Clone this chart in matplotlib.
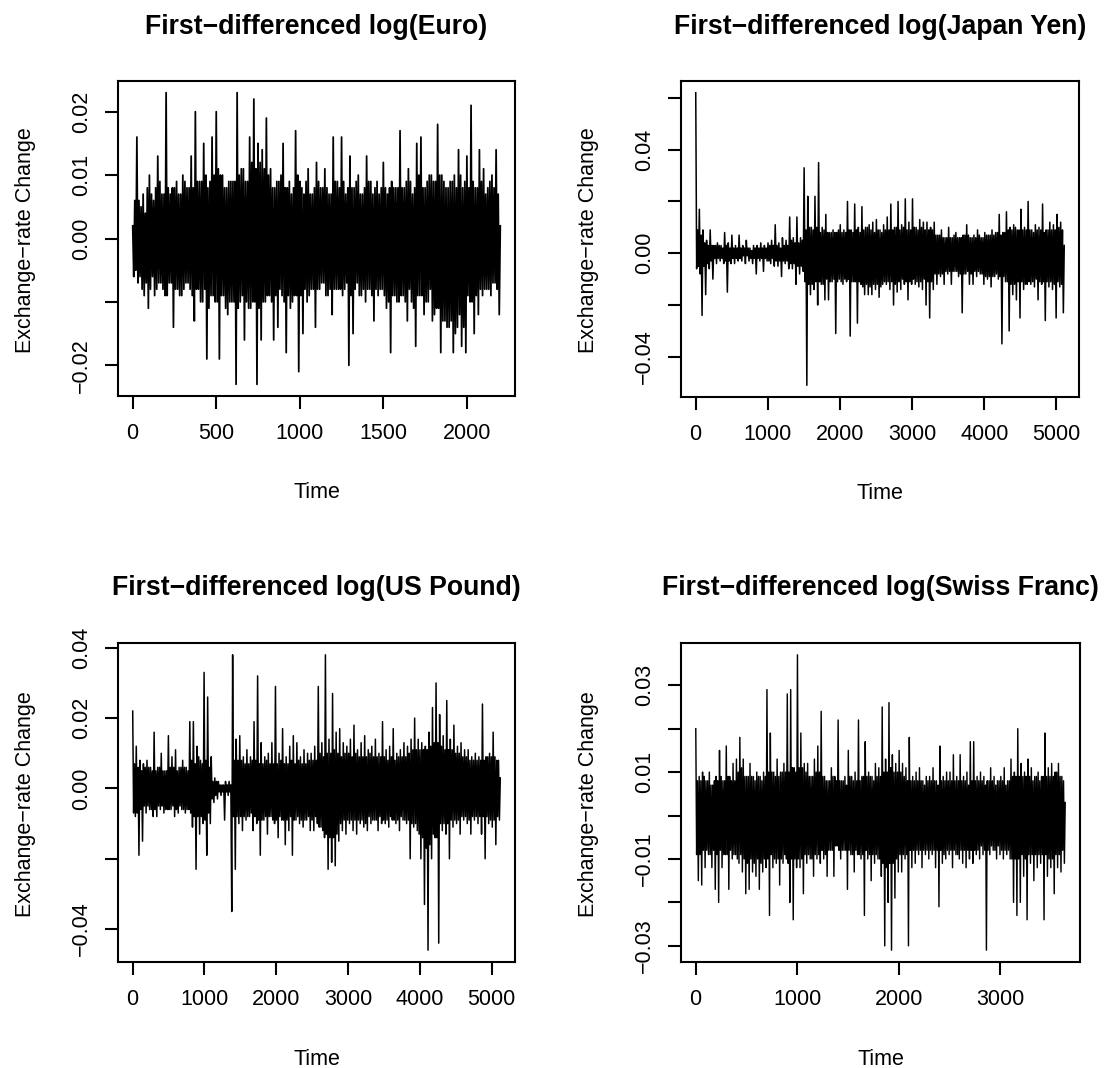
import numpy as np
import matplotlib
matplotlib.use("Agg")
import matplotlib.pyplot as plt

plt.rcParams['font.family'] = ['Liberation Sans', 'DejaVu Sans']

# ---------------- data (in units of 0.001) -------------
euro_n = 2200
euro_milli = [
    2, -6, 6, -5, 16, -7, 6, -6, 5, -8, 7, -9, 4, -7, 8, -11,
    10, -8, 7, -6, 6, -9, 8, -8, 13, -7, 9, -7, 7, -8, 7, -9,
    23, -9, 8, -7, 7, -7, 8, -14, 8, -8, 9, -8, 7, -9, 7, -9,
    10, -8, 9, -7, 8, -7, 8, -8, 13, -9, 8, -13, 20, -8, 9, -8,
    9, -10, 9, -10, 15, -8, 10, -19, 8, -11, 9, -9, 16, -9, 10, -10,
    20, -10, 11, -19, 10, -9, 10, -9, 8, -11, 8, -12, 9, -10, 9, -10,
    9, -10, 9, -23, 23, -11, 10, -10, 11, -9, 11, -16, 9, -10, 9, -11,
    16, -11, 12, -10, 22, -10, 11, -23, 15, -11, 12, -16, 14, -10, 11, -10,
    19, -9, 10, -9, 11, -10, 8, -16, 8, -9, 9, -14, 9, -8, 10, -9,
    15, -10, 8, -18, 8, -9, 9, -11, 7, -10, 8, -9, 17, -9, 10, -21,
    9, -9, 8, -15, 7, -8, 9, -10, 11, -9, 7, -8, 7, -8, 8, -14,
    12, -8, 9, -8, 8, -7, 8, -7, 11, -9, 8, -9, 7, -8, 7, -12,
    16, -8, 9, -8, 9, -8, 8, -8, 16, -9, 9, -8, 7, -7, 8, -20,
    13, -9, 8, -15, 8, -8, 9, -7, 10, -9, 7, -9, 7, -8, 8, -10,
    13, -8, 9, -8, 9, -9, 7, -13, 8, -8, 9, -9, 7, -8, 8, -8,
    12, -9, 8, -11, 7, -10, 8, -18, 9, -9, 8, -9, 8, -10, 8, -10,
    17, -9, 8, -9, 8, -10, 9, -13, 11, -8, 9, -10, 7, -11, 8, -17,
    15, -9, 10, -9, 16, -9, 8, -12, 8, -10, 9, -10, 10, -8, 10, -13,
    9, -12, 9, -11, 18, -11, 10, -18, 10, -13, 9, -13, 8, -14, 8, -14,
    9, -13, 9, -18, 10, -15, 8, -14, 14, -12, 10, -17, 8, -14, 9, -18,
    13, -9, 8, -10, 21, -10, 9, -15, 8, -9, 8, -12, 14, -8, 9, -9,
    11, -8, 7, -8, 8, -8, 9, -9, 10, -7, 8, -7, 14, -8, 7, -12,
    2,
]

yen_n = 5110
yen_milli = [
    62, -6, 9, -5, 17, -8, 7, -24,
    9, -5, 4, -16, 5, -4, 3, -6,
    9, -3, 3, -10, 3, -2, 3, -4,
    4, -2, 3, -3, 3, -2, 2, -4,
    8, -3, 3, -15, 4, -3, 2, -4,
    7, -2, 2, -4, 3, -2, 2, -3,
    7, -2, 2, -3, 3, -1, 2, -4,
    5, -1, 2, -3, 2, -2, 1, -4,
    3, -2, 2, -8, 3, -2, 2, -3,
    4, -2, 2, -7, 3, -2, 2, -3,
    4, -3, 3, -4, 5, -2, 3, -5,
    11, -3, 3, -5, 4, -3, 2, -9,
    6, -3, 3, -4, 5, -3, 3, -6,
    14, -4, 5, -6, 6, -4, 4, -12,
    14, -5, 4, -8, 6, -5, 5, -7,
    33, -11, 9, -51, 22, -12, 10, -16,
    10, -12, 9, -14, 22, -11, 10, -20,
    35, -11, 8, -12, 10, -12, 9, -18,
    15, -10, 8, -18, 8, -11, 8, -11,
    9, -10, 8, -31, 8, -11, 9, -10,
    11, -11, 8, -12, 9, -10, 8, -11,
    20, -10, 9, -32, 9, -11, 8, -11,
    19, -11, 9, -27, 10, -11, 8, -12,
    18, -13, 9, -16, 10, -12, 10, -16,
    11, -13, 9, -16, 12, -12, 8, -14,
    13, -12, 9, -17, 9, -13, 8, -12,
    11, -11, 9, -12, 14, -11, 9, -14,
    19, -11, 9, -20, 10, -12, 10, -15,
    20, -11, 9, -14, 11, -10, 10, -12,
    21, -11, 9, -18, 12, -11, 9, -12,
    21, -10, 10, -12, 10, -11, 9, -13,
    13, -11, 10, -14, 12, -10, 9, -20,
    12, -11, 9, -25, 10, -11, 9, -14,
    12, -8, 7, -12, 7, -8, 7, -9,
    9, -8, 6, -12, 6, -7, 6, -8,
    10, -7, 6, -12, 6, -7, 7, -7,
    8, -7, 6, -9, 6, -8, 6, -23,
    7, -8, 7, -8, 11, -7, 7, -12,
    6, -8, 6, -12, 7, -7, 6, -9,
    9, -7, 7, -8, 6, -8, 6, -12,
    8, -9, 7, -10, 7, -9, 7, -13,
    9, -9, 7, -9, 8, -8, 8, -10,
    15, -9, 7, -35, 8, -9, 8, -11,
    16, -11, 9, -30, 10, -12, 9, -16,
    11, -12, 10, -18, 9, -11, 9, -25,
    17, -11, 9, -14, 10, -12, 9, -12,
    20, -11, 9, -12, 9, -11, 8, -13,
    11, -10, 9, -18, 10, -11, 9, -12,
    19, -11, 8, -26, 9, -11, 9, -13,
    12, -11, 9, -14, 11, -12, 9, -25,
    15, -11, 10, -13, 12, -12, 9, -23,
    3,
]

pound_n = 5120
pound_milli = [
    22, -7, 7, -8, 12, -7, 6, -19,
    8, -6, 5, -15, 7, -5, 6, -7,
    8, -5, 6, -6, 6, -6, 5, -8,
    16, -6, 5, -8, 6, -5, 6, -6,
    10, -5, 5, -7, 5, -6, 5, -6,
    15, -6, 6, -6, 9, -5, 6, -8,
    11, -6, 5, -7, 6, -5, 6, -6,
    8, -6, 6, -7, 6, -6, 5, -6,
    19, -7, 8, -11, 19, -8, 7, -23,
    12, -8, 9, -13, 8, -8, 7, -10,
    33, -9, 8, -19, 26, -7, 6, -10,
    9, -3, 2, -4, 3, -2, 2, -3,
    2, -1, 1, -2, 1, -1, 1, -9,
    2, -1, 1, -2, 2, -1, 1, -35,
    38, -8, 8, -23, 14, -8, 8, -10,
    15, -8, 8, -12, 9, -8, 7, -9,
    11, -8, 7, -8, 9, -7, 8, -12,
    19, -8, 8, -10, 32, -9, 7, -19,
    13, -9, 7, -9, 9, -8, 8, -13,
    10, -8, 7, -8, 13, -9, 7, -10,
    29, -9, 7, -14, 10, -8, 8, -9,
    17, -9, 7, -16, 9, -9, 7, -12,
    12, -8, 8, -19, 15, -9, 7, -9,
    13, -8, 8, -10, 9, -9, 7, -11,
    11, -9, 7, -9, 10, -8, 8, -12,
    10, -9, 8, -12, 12, -8, 8, -10,
    29, -11, 10, -11, 13, -12, 9, -14,
    38, -13, 10, -23, 14, -14, 10, -21,
    27, -14, 11, -22, 16, -13, 10, -15,
    17, -10, 9, -12, 13, -9, 10, -13,
    12, -9, 10, -10, 14, -9, 9, -12,
    18, -9, 10, -13, 11, -9, 9, -10,
    13, -9, 9, -11, 15, -10, 9, -12,
    11, -8, 10, -10, 12, -9, 9, -9,
    14, -9, 9, -12, 10, -8, 9, -10,
    19, -9, 9, -10, 11, -9, 8, -11,
    12, -8, 9, -9, 17, -9, 8, -10,
    10, -9, 9, -12, 11, -8, 9, -9,
    13, -9, 9, -10, 12, -9, 10, -20,
    14, -10, 11, -11, 20, -10, 11, -12,
    14, -13, 11, -20, 13, -14, 11, -33,
    12, -17, 11, -46, 16, -16, 12, -20,
    23, -13, 13, -14, 30, -14, 13, -44,
    21, -10, 12, -12, 15, -10, 11, -13,
    25, -10, 11, -20, 14, -9, 11, -11,
    18, -9, 10, -10, 12, -9, 10, -13,
    13, -8, 9, -9, 11, -8, 9, -10,
    11, -9, 8, -13, 9, -8, 8, -9,
    10, -8, 8, -10, 9, -8, 8, -13,
    24, -8, 8, -20, 9, -8, 9, -10,
    10, -9, 9, -11, 16, -9, 9, -16,
    8, -8, 8, -9, 3,
]

swiss_n = 3640
swiss_milli = [
    20, -9, 8, -15, 9, -9, 8, -16, 10, -8, 9, -12,
    8, -8, 8, -9, 10, -9, 7, -12, 7, -8, 8, -17,
    9, -9, 8, -20, 15, -8, 9, -12, 8, -9, 8, -9,
    16, -9, 9, -17, 9, -8, 8, -10, 12, -9, 8, -9,
    13, -10, 10, -11, 18, -9, 11, -13, 13, -10, 9, -18,
    9, -11, 9, -17, 12, -10, 9, -13, 9, -11, 8, -14,
    10, -10, 9, -17, 9, -11, 8, -13, 10, -10, 9, -12,
    29, -10, 10, -23, 19, -9, 10, -12, 10, -10, 9, -11,
    13, -10, 9, -16, 10, -10, 10, -11, 12, -9, 10, -10,
    28, -11, 10, -20, 29, -10, 11, -24, 11, -10, 10, -12,
    37, -10, 11, -12, 19, -10, 11, -18, 12, -9, 10, -11,
    12, -9, 9, -10, 9, -10, 9, -14, 13, -9, 10, -10,
    16, -9, 10, -11, 24, -8, 9, -10, 9, -9, 8, -14,
    8, -8, 8, -8, 11, -8, 9, -14, 9, -7, 8, -7,
    22, -8, 8, -10, 8, -8, 8, -8, 9, -8, 7, -17,
    15, -8, 9, -9, 9, -9, 8, -13, 10, -8, 8, -9,
    22, -9, 8, -10, 9, -9, 9, -23, 17, -8, 9, -10,
    10, -9, 9, -15, 9, -9, 8, -11, 12, -9, 9, -10,
    11, -10, 9, -14, 25, -11, 10, -30, 13, -12, 10, -20,
    26, -11, 11, -31, 14, -11, 10, -19, 12, -10, 10, -13,
    15, -9, 10, -13, 12, -9, 9, -10, 11, -9, 8, -30,
    18, -8, 8, -12, 9, -8, 8, -11, 10, -8, 8, -9,
    11, -8, 8, -12, 8, -8, 7, -9, 9, -8, 8, -10,
    9, -8, 8, -9, 11, -8, 8, -12, 8, -8, 7, -21,
    16, -8, 8, -11, 9, -9, 8, -10, 10, -8, 8, -9,
    10, -8, 8, -12, 14, -8, 8, -9, 9, -9, 8, -10,
    14, -8, 8, -11, 9, -8, 8, -12, 10, -8, 7, -10,
    17, -8, 8, -11, 17, -8, 8, -9, 9, -8, 8, -10,
    10, -7, 8, -9, 9, -8, 7, -31, 8, -8, 8, -9,
    11, -7, 8, -8, 9, -8, 7, -10, 8, -7, 8, -9,
    9, -8, 8, -10, 11, -8, 7, -9, 8, -8, 8, -10,
    13, -10, 9, -20, 10, -10, 9, -23, 20, -10, 9, -20,
    12, -9, 9, -14, 10, -10, 9, -24, 13, -9, 9, -11,
    11, -9, 8, -15, 9, -9, 9, -12, 10, -9, 8, -11,
    9, -9, 9, -24, 19, -9, 9, -14, 11, -10, 9, -12,
    12, -10, 9, -18, 10, -9, 10, -12, 12, -9, 9, -13,
    9, -8, 8, -11, 3,
]

titles = ["First\u2212differenced log(Euro)",
          "First\u2212differenced log(Japan Yen)",
          "First\u2212differenced log(US Pound)",
          "First\u2212differenced log(Swiss Franc)"]

euro_xticks = [0, 500, 1000, 1500, 2000]
yen_xticks = [0, 1000, 2000, 3000, 4000, 5000]
pound_xticks = [0, 1000, 2000, 3000, 4000, 5000]
swiss_xticks = [0, 1000, 2000, 3000]

euro_yticks = [-0.02, -0.01, 0.00, 0.01, 0.02]
euro_ylabels = ["\u22120.02", "", "0.00", "0.01", "0.02"]
yen_yticks = [-0.04, -0.02, 0.00, 0.02, 0.04, 0.06]
yen_ylabels = ["\u22120.04", "", "0.00", "", "0.04", ""]
pound_yticks = [-0.04, -0.02, 0.00, 0.02, 0.04]
pound_ylabels = ["\u22120.04", "", "0.00", "0.02", "0.04"]
swiss_yticks = [-0.03, -0.02, -0.01, 0.00, 0.01, 0.02, 0.03]
swiss_ylabels = ["\u22120.03", "", "\u22120.01", "", "0.01", "", "0.03"]

# ---------------- figure -------------------------------------------------------------
W, H = 1117, 1068
fig = plt.figure(figsize=(W / 100, H / 100), dpi=100)

def rect(l, r, t, b):
    return [l / W, 1 - b / H, (r - l) / W, (b - t) / H]

panels = [
    (titles[0], euro_n, euro_milli, euro_xticks, euro_yticks, euro_ylabels, rect(118, 515, 81, 396)),
    (titles[1], yen_n, yen_milli, yen_xticks, yen_yticks, yen_ylabels, rect(681, 1079, 81, 397)),
    (titles[2], pound_n, pound_milli, pound_xticks, pound_yticks, pound_ylabels, rect(118, 515, 643, 962)),
    (titles[3], swiss_n, swiss_milli, swiss_xticks, swiss_yticks, swiss_ylabels, rect(681, 1080, 643, 962)),
]

FS = 15.5
for title, n, vals, xt, yt, yl, r in panels:
    ax = fig.add_axes(r)
    y = np.asarray(vals, dtype=float) * 1e-3
    t = np.linspace(1, n, len(y))
    # stroke wide enough that neighbouring strokes merge into the dense core
    period_px = 2 * (r[2] * W) * (1 / 1.08) / len(y)
    lw = max(period_px * 0.85 * 0.72, 1.0)
    ax.plot(t, y, color="black", lw=lw, solid_joinstyle="round")
    ax.margins(x=0.04, y=0.04)
    ax.set_xticks(xt)
    ax.set_xticklabels([str(v) for v in xt], fontsize=FS)
    ax.set_yticks(yt)
    ax.set_yticklabels(yl, fontsize=FS, rotation=90, va="center")
    for s in ax.spines.values():
        s.set_linewidth(1.5)
    ax.tick_params(direction="out", length=9.5, width=1.5, top=False, right=False)
    ax.tick_params(axis="x", pad=10)
    ax.tick_params(axis="y", pad=9)
    ax.set_title(title, fontsize=19.2, fontweight="bold", y=1.171, va="center", pad=0)
    ax.set_xlabel("Time", fontsize=FS, va="center")
    ax.xaxis.set_label_coords(0.5, -0.305)
    ax.set_ylabel("Exchange\u2212rate Change", fontsize=FS, va="center")
    ax.yaxis.set_label_coords(-0.233, 0.495)

fig.savefig("out.png", dpi=100)
